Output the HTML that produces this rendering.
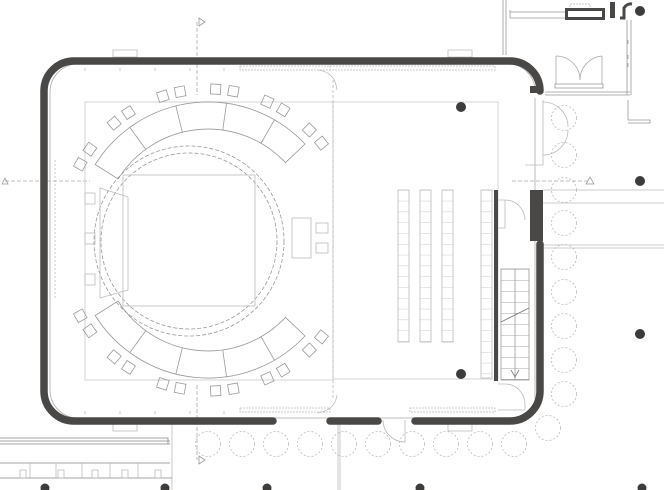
<!DOCTYPE html>
<html><head><meta charset="utf-8"><style>html,body{margin:0;padding:0;background:#fff}svg{display:block}</style></head>
<body>
<svg width="664" height="490" viewBox="0 0 664 490" xmlns="http://www.w3.org/2000/svg">
<defs>
<pattern id="bp" x="0" y="190" width="20" height="10.8" patternUnits="userSpaceOnUse">
<line x1="0" y1="0" x2="20" y2="0" stroke="#bbb" stroke-width="0.7"/>
</pattern>
<pattern id="sp" x="0" y="269" width="40" height="11" patternUnits="userSpaceOnUse">
<line x1="0" y1="0" x2="40" y2="0" stroke="#888" stroke-width="0.7"/>
</pattern>
</defs>
<g fill="none" stroke="#bbb" stroke-width="0.8">
<g stroke-dasharray="2 2" stroke="#bbb">
<circle cx="564" cy="118" r="12.5"/><circle cx="564" cy="155" r="12.5"/>
<circle cx="564" cy="190" r="12.5"/><circle cx="564" cy="223" r="12.5"/><circle cx="564" cy="257" r="12.5"/>
<circle cx="564" cy="292" r="12.5"/><circle cx="564" cy="326" r="12.5"/><circle cx="564" cy="360" r="12.5"/><circle cx="564" cy="394" r="12.5"/>
<circle cx="548" cy="428" r="12.5"/>
<circle cx="208" cy="444" r="12.5"/><circle cx="242" cy="444" r="12.5"/><circle cx="276" cy="444" r="12.5"/><circle cx="310" cy="444" r="12.5"/>
<circle cx="344" cy="444" r="12.5"/><circle cx="378" cy="444" r="12.5"/><circle cx="412" cy="444" r="12.5"/><circle cx="446" cy="444" r="12.5"/>
<circle cx="480" cy="444" r="12.5"/><circle cx="514" cy="444" r="12.5"/>
</g>
<g stroke-dasharray="4 2" stroke="#aaa">
<line x1="197" y1="22" x2="197" y2="95"/>
<line x1="197" y1="385" x2="197" y2="460"/>
<line x1="5" y1="181" x2="90" y2="181"/>
<line x1="512" y1="181" x2="590" y2="181"/>
</g>
<path d="M2 184 L5 178 L8 184 Z M199 18 L205 22 L199 26 Z M199 456 L205 460 L199 464 Z M586 184 L590 177 L594 184 Z" stroke="#999"/>
<line x1="543" y1="190" x2="664" y2="190"/><line x1="543" y1="203" x2="664" y2="203"/>
<line x1="543" y1="245" x2="664" y2="245"/><line x1="543" y1="248" x2="664" y2="248"/>
<line x1="172" y1="424" x2="172" y2="490"/>
<line x1="338" y1="424" x2="338" y2="490"/><line x1="340" y1="424" x2="340" y2="490"/>
<path d="M0 441 H170 M0 444 H170 M0 463 H170 M0 478 H172 M0 438 H168 V444" stroke="#888"/>
<path d="M30 463 V478 M56 463V478 M82 463V478 M110 463V478 M138 463V478 M20 470h6v8h-6z M58 470h6v8h-6z M92 470h6v8h-6z M122 470h6v8h-6z M155 470h6v8h-6z"/>
<path d="M78 64 H512 A28 28 0 0 1 535 88 M535 98 V410 A10 10 0 0 1 525 418 H78 A28 28 0 0 1 50 390 V92 A28 28 0 0 1 78 64" stroke="#aaa"/>
<path d="M85 68v3 M120 68v3 M155 68v3 M190 68v3 M224 68v3 M85 414v-3 M120 414v-3 M155 414v-3 M190 414v-3 M224 414v-3"/>
<path d="M240 66 H330 V70 H240 Z M240 408 H330 V412 H240Z M410 408 H495 V412 H410Z M330 66 H495 V70 H330Z" stroke-dasharray="2 1"/>
<rect x="85" y="102" width="248" height="278" stroke="#ccc"/>
<rect x="333" y="102" width="165" height="277" stroke="#ccc"/>
<line x1="333" y1="80" x2="333" y2="400" stroke-dasharray="3 2" stroke="#bbb"/>
<path d="M318 70 Q335 72 337 90 M318 413 Q335 410 337 395"/>
<line x1="55" y1="160" x2="55" y2="300" stroke-dasharray="2 2"/>
<circle cx="189" cy="241" r="95" stroke-dasharray="4 2" stroke="#999"/>
<circle cx="189" cy="241" r="88" stroke-dasharray="4 2" stroke="#999"/>
<rect x="123" y="175" width="132" height="131" stroke="#bbb"/>
<path d="M100 188 L128 197 V290 L100 298 Z"/>
<rect x="292" y="218" width="19" height="40"/>
<rect x="316" y="223" width="12" height="10"/><rect x="316" y="243" width="12" height="10"/>
<rect x="85" y="193" width="10" height="11"/><rect x="85" y="233" width="10" height="11"/><rect x="85" y="274" width="10" height="11"/>
<g stroke="#999">
<path d="M95.2 164.5 A133 133 0 0 1 305 144 L285.5 162.7 A106 106 0 0 0 118.1 179 Z"/>
<path d="M95.2 315.5 A133 133 0 0 0 305 336 L285.5 317.3 A106 106 0 0 1 118.1 301 Z"/>
<g>
<line x1="314" y1="235" x2="341" y2="235" transform="rotate(-126 208 235)"/>
<line x1="314" y1="235" x2="341" y2="235" transform="rotate(-104 208 235)"/>
<line x1="314" y1="235" x2="341" y2="235" transform="rotate(-82 208 235)"/>
<line x1="314" y1="235" x2="341" y2="235" transform="rotate(-60 208 235)"/>
<line x1="314" y1="245" x2="341" y2="245" transform="rotate(126 208 245)"/>
<line x1="314" y1="245" x2="341" y2="245" transform="rotate(104 208 245)"/>
<line x1="314" y1="245" x2="341" y2="245" transform="rotate(82 208 245)"/>
<line x1="314" y1="245" x2="341" y2="245" transform="rotate(60 208 245)"/>
</g>
<g>
<rect x="349" y="230" width="10" height="10" transform="rotate(-151 208 235)"/>
<rect x="349" y="230" width="10" height="10" transform="rotate(-144 208 235)"/>
<rect x="349" y="230" width="10" height="10" transform="rotate(-130 208 235)"/>
<rect x="349" y="230" width="10" height="10" transform="rotate(-123 208 235)"/>
<rect x="349" y="230" width="10" height="10" transform="rotate(-108 208 235)"/>
<rect x="349" y="230" width="10" height="10" transform="rotate(-101 208 235)"/>
<rect x="349" y="230" width="10" height="10" transform="rotate(-87 208 235)"/>
<rect x="349" y="230" width="10" height="10" transform="rotate(-80 208 235)"/>
<rect x="349" y="230" width="10" height="10" transform="rotate(-66 208 235)"/>
<rect x="349" y="230" width="10" height="10" transform="rotate(-59 208 235)"/>
<rect x="349" y="230" width="10" height="10" transform="rotate(-46 208 235)"/>
<rect x="349" y="230" width="10" height="10" transform="rotate(-39 208 235)"/>
<rect x="349" y="240" width="10" height="10" transform="rotate(151 208 245)"/>
<rect x="349" y="240" width="10" height="10" transform="rotate(144 208 245)"/>
<rect x="349" y="240" width="10" height="10" transform="rotate(130 208 245)"/>
<rect x="349" y="240" width="10" height="10" transform="rotate(123 208 245)"/>
<rect x="349" y="240" width="10" height="10" transform="rotate(108 208 245)"/>
<rect x="349" y="240" width="10" height="10" transform="rotate(101 208 245)"/>
<rect x="349" y="240" width="10" height="10" transform="rotate(87 208 245)"/>
<rect x="349" y="240" width="10" height="10" transform="rotate(80 208 245)"/>
<rect x="349" y="240" width="10" height="10" transform="rotate(66 208 245)"/>
<rect x="349" y="240" width="10" height="10" transform="rotate(59 208 245)"/>
<rect x="349" y="240" width="10" height="10" transform="rotate(46 208 245)"/>
<rect x="349" y="240" width="10" height="10" transform="rotate(39 208 245)"/>
</g>
</g>
<g fill="url(#bp)" stroke="#bbb">
<rect x="398" y="190" width="11" height="152"/>
<rect x="420" y="190" width="11" height="152"/>
<rect x="442" y="190" width="11" height="152"/>
<rect x="481" y="190" width="11" height="188"/>
</g>
<rect x="501" y="269" width="28" height="111" stroke="#999" fill="url(#sp)"/>
<line x1="515" y1="269" x2="515" y2="380" stroke="#999"/>
<path d="M501 322 L529 308 M511 370 L515 377 L519 370" stroke="#777"/>
<path d="M498 200 H505 A20 20 0 0 1 525 220 M505 200 V228 H498 M498 384 H505 A20 20 0 0 1 525 404 V410 H498"/>
<path d="M543 102 A25 25 0 0 1 568 127 M543 155 A25 25 0 0 0 568 130 M543 100 V165 H525"/>
<path d="M383 420 A22 22 0 0 0 405 442 V420"/>
<path d="M503 0 V55 M506 0 V55 M510 18 H600 M510 12 H600 M510 18 V10" stroke="#999"/>
<path d="M570 14 H590 V4 H570 Z" stroke-dasharray="2 1"/>
<path d="M556 56 V84 M602 56 V84 M556 56 A24 24 0 0 1 580 80 M602 56 A24 24 0 0 0 580 80" stroke="#aaa"/>
<path d="M555 84 H603 V88 H555 Z M545 92 H630 M545 95 H630 M627 20 V95 M631 20 V95 M628 40 v4 M628 55 v4 M628 63 v4 M628 100 V120 H650 V123 H628" stroke="#999"/>
<path d="M113 50 H137 V57 H113 Z M448 50 H472 V57 H448Z M113 424 H137 V431 H113 Z M448 424 H472 V431 H448Z"/>
</g>
<g fill="none" stroke="#4a4847" stroke-width="7.5" stroke-linecap="round">
<path d="M273 421 H74 A30 30 0 0 1 44 391 V91 A30 30 0 0 1 74 61 H510 A30 30 0 0 1 540 91"/>
<path d="M330 421 H378"/>
<path d="M415 421 H510 A30 30 0 0 0 540 391 V244"/>
</g>
<rect x="530" y="86" width="13" height="7" fill="#4a4847"/>
<rect x="530" y="190" width="13" height="51" fill="#4a4847"/>
<rect x="494" y="190" width="4" height="191" fill="#4a4847"/>
<rect x="565" y="8" width="40" height="12" fill="#4a4847"/><rect x="568" y="11" width="34" height="6" fill="#fff"/>
<rect x="610" y="2" width="5" height="16" fill="#4a4847"/>
<path d="M620 18 H624 V8 A8 8 0 0 1 632 4" stroke="#4a4847" stroke-width="3" fill="none"/>
<g fill="#3e3c3b">
<circle cx="461" cy="107" r="5"/><circle cx="461" cy="374" r="5"/>
<circle cx="640" cy="11" r="5"/><circle cx="640" cy="181" r="5"/><circle cx="640" cy="334" r="5"/>
<circle cx="45" cy="488" r="4.5"/><circle cx="165" cy="488" r="4.5"/><circle cx="267" cy="488" r="4.5"/><circle cx="420" cy="488" r="4.5"/><circle cx="642" cy="488" r="4.5"/>
</g>
</svg>
</body></html>
